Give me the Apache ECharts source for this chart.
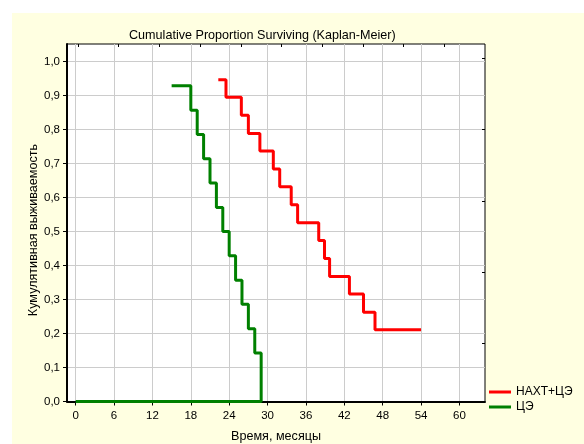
<!DOCTYPE html>
<html>
<head>
<meta charset="utf-8">
<script src="https://cdn.jsdelivr.net/npm/echarts@6/dist/echarts.min.js"></script>
<style>
html,body{margin:0;padding:0;background:#ffffff;width:584px;height:444px;overflow:hidden;}
#chart{position:absolute;left:12px;top:13px;width:572px;height:431px;}
</style>
</head>
<body>
<div id="chart"></div>
<script>
// ---- data ----
var xTicks = [0, 6, 12, 18, 24, 30, 36, 42, 48, 54, 60];
var yTicks = [0, 0.1, 0.2, 0.3, 0.4, 0.5, 0.6, 0.7, 0.8, 0.9, 1.0];
var seriesNames = ['НАХТ+ЦЭ', 'ЦЭ'];
var redTimes = [22.3, 23.5, 25.9, 27.0, 28.8, 30.9, 31.9, 33.7, 34.7, 38.0, 38.9, 39.7, 42.8, 45.0, 46.8, 54.0];
var redSurv  = [0.947, 0.895, 0.842, 0.789, 0.737, 0.684, 0.632, 0.579, 0.526, 0.474, 0.421, 0.368, 0.316, 0.263, 0.211, 0.211];
var greenTimes = [15, 18, 19, 20, 21, 22, 23, 24, 25, 26, 27, 28, 29, 0];
var greenSurv  = [0.929, 0.857, 0.786, 0.714, 0.643, 0.571, 0.500, 0.429, 0.357, 0.286, 0.214, 0.143, 0, 0];
var topTicks = [0, 1, 2, 3, 4, 5, 6, 7, 8, 9];
var rightTicks = [0.811, 1.811, 2.811, 3.811, 4.811];

function pairs(xs, ys){ return xs.map(function(x,i){ return [x, ys[i]]; }); }

var font = 'Liberation Sans, Arial, sans-serif';
var chart = echarts.init(document.getElementById('chart'), null, {renderer:'canvas'});
chart.setOption({
  backgroundColor: '#FFFFE1',
  animation: false,
  textStyle: {fontFamily: font},
  title: {
    text: 'Cumulative Proportion Surviving (Kaplan-Meier)',
    left: 112, top: 11,
    textStyle: {fontSize: 12.6, fontWeight: 'normal', color: '#000', fontFamily: font}
  },
  grid: {
    left: 55, top: 31, width: 418, height: 357.5,
    show: true, backgroundColor: '#ffffff', borderColor: '#000', borderWidth: 1,
    containLabel: false
  },
  legend: {
    orient: 'vertical', left: 472, top: 368,
    icon: 'rect', itemWidth: 22, itemHeight: 3, itemGap: 3,
    textStyle: {fontSize: 12, color: '#000', fontFamily: font},
    data: seriesNames
  },
  xAxis: [{
    type: 'value', min: -1.36, max: 64,
    axisLine: {show: true, onZero: false, lineStyle: {color: '#000', width: 2}},
    axisTick: {show: true, inside: false, length: 4, customValues: xTicks, lineStyle: {color: '#000'}},
    axisLabel: {show: true, customValues: xTicks, margin: 8, fontSize: 11.5, color: '#000', fontFamily: font},
    splitLine: {show: true, lineStyle: {color: '#cccccc', width: 1}}
  }, {
    type: 'value', position: 'top', min: -0.27, max: 10,
    axisLine: {show: false, onZero: false},
    axisTick: {show: true, inside: true, length: 3, customValues: topTicks, lineStyle: {color: '#000'}},
    axisLabel: {show: false},
    splitLine: {show: false}
  }],
  yAxis: [{
    type: 'value', min: 0, max: 1.052,
    axisLine: {show: true, onZero: false, lineStyle: {color: '#000', width: 2}},
    axisTick: {show: true, inside: false, length: 4, customValues: yTicks, lineStyle: {color: '#000'}},
    axisLabel: {show: true, customValues: yTicks, margin: 7, fontSize: 11.5, color: '#000', fontFamily: font,
      formatter: function(v){ return v.toFixed(1).replace('.', ','); }},
    splitLine: {show: true, lineStyle: {color: '#cccccc', width: 1}}
  }, {
    type: 'value', position: 'right', min: 0, max: 5.007,
    axisLine: {show: false, onZero: false},
    axisTick: {show: true, inside: true, length: 3, customValues: rightTicks, lineStyle: {color: '#000'}},
    axisLabel: {show: false},
    splitLine: {show: false}
  }],
  graphic: [{
    type: 'text', x: 22, y: 217, rotation: Math.PI / 2,
    style: {text: 'Кумулятивная выживаемость', fontSize: 12.6, fontFamily: font, fill: '#000',
      textAlign: 'center', textVerticalAlign: 'middle'}
  }, {
    type: 'text', x: 264, y: 424,
    style: {text: 'Время, месяцы', fontSize: 12.6, fontFamily: font, fill: '#000',
      textAlign: 'center', textVerticalAlign: 'middle'}
  }],
  series: [{
    name: seriesNames[0], type: 'line', step: 'end', xAxisIndex: 0, yAxisIndex: 0,
    data: pairs(redTimes, redSurv), symbol: 'none', color: '#FF0000',
    lineStyle: {color: '#FF0000', width: 3}
  }, {
    name: seriesNames[1], type: 'line', step: 'end', xAxisIndex: 0, yAxisIndex: 0,
    data: pairs(greenTimes, greenSurv), symbol: 'none', color: '#008000',
    lineStyle: {color: '#008000', width: 3}
  }]
});
</script>
</body>
</html>
